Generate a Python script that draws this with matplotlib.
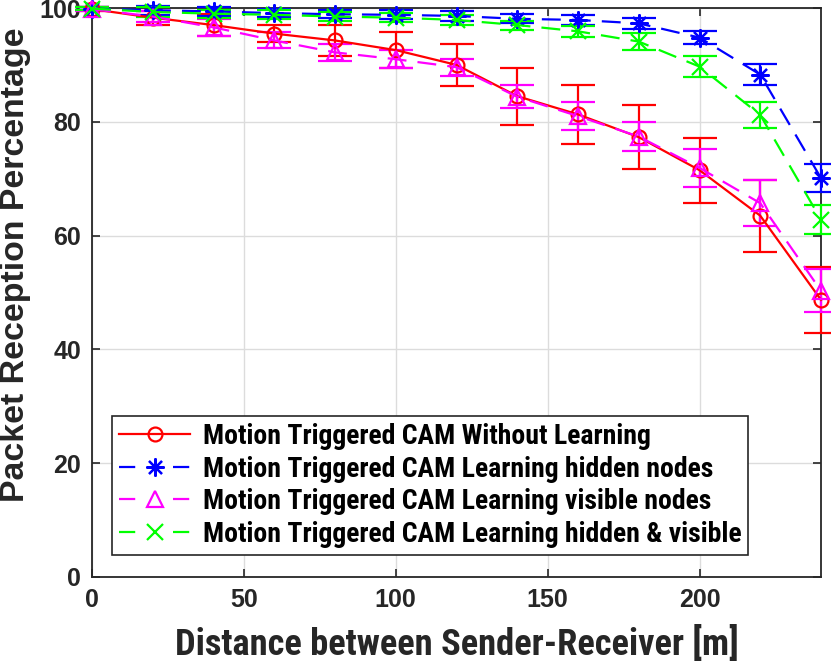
import matplotlib
matplotlib.use("Agg")
import matplotlib.pyplot as plt
from matplotlib.lines import Line2D

distance = [0, 20, 40, 60, 80, 100, 120, 140, 160, 180, 200, 220, 240]

without_learning = [99.8, 98.3, 97.0, 95.5, 94.3, 92.6, 90.0, 84.5, 81.3, 77.3, 71.5, 63.5, 48.7]
without_learning_err = [0.3, 1.2, 2.0, 1.5, 2.7, 3.2, 3.7, 5.0, 5.2, 5.6, 5.7, 6.3, 5.8]

hidden_nodes = [99.9, 99.6, 99.4, 99.1, 98.9, 98.8, 98.6, 98.1, 97.9, 97.3, 94.8, 88.3, 70.1]
hidden_nodes_err = [0.3, 0.8, 0.8, 0.7, 0.7, 0.8, 0.8, 0.8, 0.8, 1.0, 1.2, 1.8, 2.4]

visible_nodes = [99.8, 98.5, 96.6, 94.3, 92.2, 91.0, 89.6, 84.4, 81.0, 77.4, 71.9, 65.7, 50.3]
visible_nodes_err = [0.3, 1.0, 1.5, 1.4, 1.5, 1.6, 1.5, 2.0, 2.4, 2.5, 3.3, 4.0, 3.8]

hidden_visible = [99.9, 99.3, 99.0, 98.8, 98.5, 98.3, 97.9, 97.0, 95.9, 94.1, 89.7, 81.2, 62.8]
hidden_visible_err = [0.3, 0.8, 0.7, 0.8, 0.8, 0.8, 0.8, 0.8, 1.0, 1.5, 1.8, 2.3, 2.5]

labels = [
    "Motion Triggered CAM Without Learning",
    "Motion Triggered CAM Learning hidden nodes",
    "Motion Triggered CAM Learning visible nodes",
    "Motion Triggered CAM Learning hidden & visible",
]

x_ticks = [0, 50, 100, 150, 200]
y_ticks = [0, 20, 40, 60, 80, 100]

TXT = "#262626"
bold = ["Liberation Sans", "DejaVu Sans"]
narrow = ["Roboto Condensed", "Liberation Sans", "DejaVu Sans"]

fig = plt.figure(figsize=(8.31, 6.65), dpi=100)
ax = fig.add_axes([92 / 831, 88 / 665, (821 - 92) / 831, (577 - 8) / 665])

asterisk = (8, 2, 0)
series = [
    (without_learning, without_learning_err, "#ff0000", "-", "o", 10),
    (hidden_nodes, hidden_nodes_err, "#0000ff", "--", asterisk, 13),
    (visible_nodes, visible_nodes_err, "#ff00ff", "--", "^", 11),
    (hidden_visible, hidden_visible_err, "#00ff00", "--", "x", 11),
]

handles = []
for (vals, err, col, ls, mk, ms), lab in zip(series, labels):
    ax.errorbar(distance, vals, yerr=err, fmt="none", ecolor=col,
                elinewidth=1.6, capsize=12, capthick=1.6, clip_on=False, zorder=3)
    ln, = ax.plot(distance, vals, color=col, linestyle=ls, linewidth=1.6,
                  marker=mk, markersize=ms, markerfacecolor="none",
                  markeredgecolor=col, markeredgewidth=1.6, clip_on=False, zorder=4)
    if ls == "--":
        ln.set_dashes((8.5, 5))
    h = Line2D([], [], color=col, linestyle=ls, linewidth=1.6, marker=mk,
               markersize=ms, markerfacecolor="none", markeredgecolor=col,
               markeredgewidth=1.6)
    if ls == "--":
        h.set_dashes((7.3, 17.0))
    handles.append(h)

ax.set_xlim(0, 240)
ax.set_ylim(0, 100)
ax.set_xticks(x_ticks)
ax.set_yticks(y_ticks)
ax.set_xticklabels([str(v) for v in x_ticks], fontfamily=bold, fontweight="bold",
                   fontsize=18, color=TXT)
ax.set_yticklabels([str(v) for v in y_ticks], fontfamily=bold, fontweight="bold",
                   fontsize=18, color=TXT)
ax.tick_params(direction="in", length=6, width=1.2, color=TXT, top=True, right=True,
               pad=8)
ax.grid(True, color="#dcdcdc", linewidth=1.0)
ax.set_axisbelow(True)
for sp in ax.spines.values():
    sp.set_color(TXT)
    sp.set_linewidth(1.3)

ax.set_xlabel("Distance between Sender-Receiver [m]", fontfamily=narrow,
              fontweight="bold", fontsize=26.3, color=TXT, labelpad=10)
ax.set_ylabel("Packet Reception Percentage", fontfamily=bold,
              fontweight="bold", fontsize=24.4, color=TXT)
ax.yaxis.set_label_coords((31 - 92) / 729, (577 - 265) / 569)

leg = ax.legend(handles, labels, loc="lower left",
                bbox_to_anchor=(112 / 831, (665 - 555) / 665),
                bbox_transform=fig.transFigure, borderaxespad=0,
                prop={"family": narrow, "weight": "bold", "size": 20},
                fancybox=False, framealpha=1, edgecolor="#262626",
                handlelength=2.55, handletextpad=0.45, labelspacing=0.2,
                borderpad=0.26)
leg.get_frame().set_linewidth(1.2)
leg.set_zorder(10)

fig.savefig("out.png", dpi=100)
